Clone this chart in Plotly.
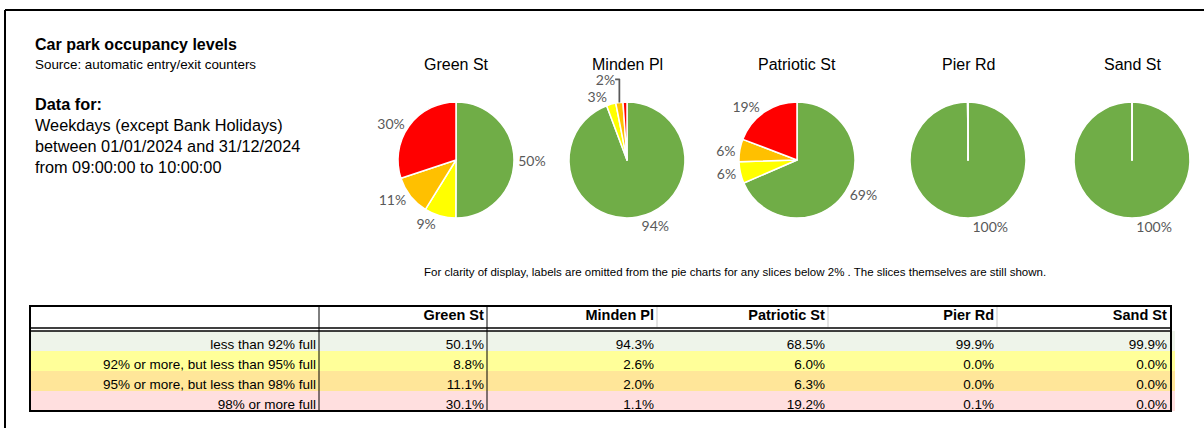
import plotly.graph_objects as go

# ---------------- data ----------------
car_parks = ["Green St", "Minden Pl", "Patriotic St", "Pier Rd", "Sand St"]
bands = [
    "less than 92% full",
    "92% or more, but less than 95% full",
    "95% or more, but less than 98% full",
    "98% or more full",
]
green_st = [50.1, 8.8, 11.1, 30.1]
minden_pl = [94.3, 2.6, 2.0, 1.1]
patriotic_st = [68.5, 6.0, 6.3, 19.2]
pier_rd = [99.9, 0.0, 0.0, 0.1]
sand_st = [99.9, 0.0, 0.0, 0.04]
series = [green_st, minden_pl, patriotic_st, pier_rd, sand_st]

slice_colors = ["#70AD47", "#FFFF00", "#FFC000", "#FF0000"]
row_fills = ["#EEF4EA", "#FFFF99", "#FFE699", "#FFDFDF"]

W, H = 1204, 428


def px_x(x):
    return x / W


def px_y(y):
    return 1 - y / H


def pie_text(vals):
    tot = sum(vals)
    out = []
    for v in vals:
        p = v / tot * 100
        out.append(f"{int(p + 0.5 + 1e-9)}%" if p >= 2 - 1e-9 else "")
    return out


fig = go.Figure()

# ---------------- pies ----------------
centers = [456, 627, 797, 968, 1132]
cy, r = 160, 58
for name, vals, cx in zip(car_parks, series, centers):
    fig.add_trace(go.Pie(
        labels=bands, values=vals, text=pie_text(vals), textinfo="text",
        textposition="outside", sort=False, direction="clockwise", rotation=0,
        marker=dict(colors=slice_colors, line=dict(color="white", width=1.5)),
        outsidetextfont=dict(family="Lato, Open Sans, sans-serif", size=14, color="#595959"),
        domain=dict(x=[px_x(cx - r), px_x(cx + r)], y=[px_y(cy + r), px_y(cy - r)]),
        hoverinfo="label+value", showlegend=False, name=name,
    ))
    fig.add_annotation(x=px_x(cx), y=px_y(64), xref="paper", yref="paper",
                       text=name, showarrow=False, xanchor="center", yanchor="middle",
                       font=dict(family="Liberation Sans, Arial", size=16, color="black"))

# ---------------- table ----------------
col_bounds = [30, 324, 492, 662, 833, 1002, 1175]
col_widths = [b - a for a, b in zip(col_bounds[:-1], col_bounds[1:])]
header_vals = [""] + [f"<b>{c}</b>" for c in car_parks]
cell_vals = [bands] + [[f"{v:.1f}%" for v in s] for s in series]
ncols = len(header_vals)
fig.add_trace(go.Table(
    domain=dict(x=[px_x(col_bounds[0]), px_x(col_bounds[-1])], y=[0, px_y(299)]),
    columnwidth=col_widths,
    header=dict(values=header_vals, align="right", height=19,
                fill=dict(color="white"), line=dict(color="white", width=0),
                font=dict(family="Liberation Sans, Arial", size=14.5, color="black")),
    cells=dict(values=cell_vals, align="right", height=20,
               fill=dict(color=[row_fills] * ncols),
               line=dict(color=[row_fills] * ncols, width=0),
               font=dict(family="Liberation Sans, Arial", size=13.5, color="black")),
))

shapes = []
# outer frame (top and left)
shapes.append(dict(type="line", x0=px_x(5), x1=1, y0=px_y(10), y1=px_y(10),
                   line=dict(color="black", width=2)))
shapes.append(dict(type="line", x0=px_x(5), x1=px_x(5), y0=px_y(10), y1=0,
                   line=dict(color="black", width=2)))
# table box
shapes.append(dict(type="rect", x0=px_x(30), x1=px_x(1171), y0=px_y(411), y1=px_y(306),
                   line=dict(color="black", width=2)))
# header double line
for yy in (328, 331):
    shapes.append(dict(type="line", x0=px_x(30), x1=px_x(1171), y0=px_y(yy), y1=px_y(yy),
                       line=dict(color="black", width=1.5)))
# vertical separators
for xx in (319, 487):
    shapes.append(dict(type="line", x0=px_x(xx), x1=px_x(xx), y0=px_y(411), y1=px_y(306),
                       line=dict(color="black", width=1)))
for xx in (657, 828, 997):
    shapes.append(dict(type="line", x0=px_x(xx), x1=px_x(xx), y0=px_y(327), y1=px_y(307),
                       line=dict(color="#C8C8C8", width=1)))

# ---------------- texts ----------------
anns = [
    ("<b>Car park occupancy levels</b>", 44, 16),
    ("Source: automatic entry/exit counters", 64, 13.4),
    ("<b>Data for:</b>", 104, 16.3),
    ("Weekdays (except Bank Holidays)", 125, 16.3),
    ("between 01/01/2024 and 31/12/2024", 146, 16.3),
    ("from 09:00:00 to 10:00:00", 167, 16.3),
]
for t, yy, sz in anns:
    fig.add_annotation(x=px_x(33), y=px_y(yy), xref="paper", yref="paper", text=t,
                       showarrow=False, xanchor="left", yanchor="middle",
                       font=dict(family="Liberation Sans, Arial", size=sz, color="black"))

fig.add_annotation(x=px_x(735), y=px_y(272), xref="paper", yref="paper",
                   text="For clarity of display, labels are omitted from the pie charts for any slices below 2% . The slices themselves are still shown.",
                   showarrow=False, xanchor="center", yanchor="middle",
                   font=dict(family="Liberation Sans Narrow, Liberation Sans, Arial", size=11.5, color="black"))

fig.update_layout(width=W, height=H, margin=dict(l=0, r=0, t=0, b=0),
                  paper_bgcolor="white", plot_bgcolor="white", showlegend=False,
                  shapes=shapes)

fig.write_html("out.html", config={"displayModeBar": False},
               post_script="document.body.style.margin='0';document.body.style.overflow='hidden';")
